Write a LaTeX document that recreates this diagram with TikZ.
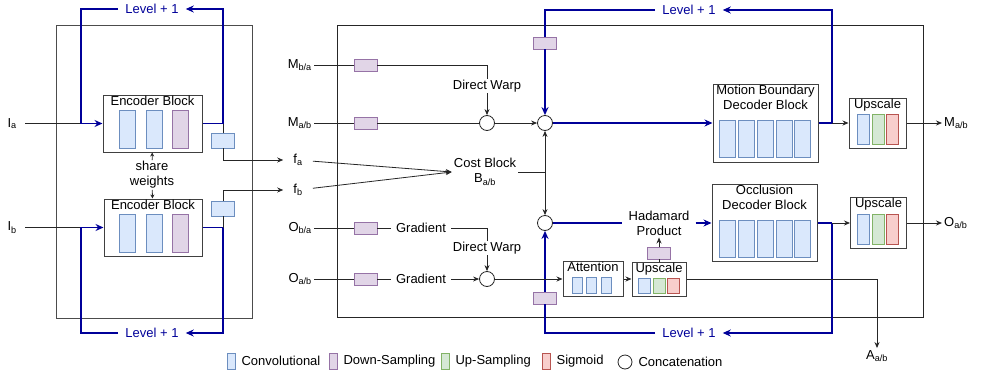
\documentclass[tikz,border=0pt]{standalone}
\usepackage{fontspec}
\setmainfont{Liberation Sans}
\usetikzlibrary{arrows.meta,positioning}
\definecolor{lvlblue}{HTML}{000099}
\definecolor{convfill}{HTML}{DAE8FC}
\definecolor{convline}{HTML}{6C8EBF}
\definecolor{downfill}{HTML}{E1D5E7}
\definecolor{downline}{HTML}{9673A6}
\definecolor{upfill}{HTML}{D5E8D4}
\definecolor{upline}{HTML}{82B366}
\definecolor{sigfill}{HTML}{F8CECC}
\definecolor{sigline}{HTML}{B85450}

\tikzset{
  ln/.style={draw=black!85, line width=0.8pt},
  arr/.style={ln, -{Stealth[length=6pt,width=5pt]}},
  sarr/.style={ln, -{Stealth[length=4pt,width=4pt]}},
  lvl/.style={draw=lvlblue, line width=1.4pt},
  larr/.style={lvl, -{Stealth[length=8pt,width=7pt]}},
  block/.style={rectangle, draw=black!75, fill=white, line width=1pt, inner sep=0pt},
  title/.style={anchor=north, inner sep=1pt, align=center},
  convbar/.style={draw=convline, fill=convfill, line width=0.8pt},
  downbar/.style={draw=downline, fill=downfill, line width=0.8pt},
  upbar/.style={draw=upline, fill=upfill, line width=0.8pt},
  sigbar/.style={draw=sigline, fill=sigfill, line width=0.8pt},
  dsbox/.style={downbar, minimum width=23pt, minimum height=12pt, inner sep=0pt},
  cbox/.style={convbar, minimum width=23pt, minimum height=15pt, inner sep=0pt},
  cat/.style={circle, draw=black!85, fill=white, line width=0.8pt, minimum size=15pt, inner sep=0pt},
  lvltxt/.style={text=lvlblue, inner xsep=7pt},
  inlbl/.style={anchor=east, inner xsep=8pt},
  mlbl/.style={anchor=east, inner xsep=2pt},
  flbl/.style={inner xsep=10pt},
}

\begin{document}
\begin{tikzpicture}[x=1pt, y=-1pt, every node/.append style={font=\fontsize{13}{15}\selectfont}]
\useasboundingbox (0,0) rectangle (983,370);

% encoder side
\draw[draw=black!70, line width=1pt] (56,25) rectangle (252,318);
\node[block, minimum width=99pt, minimum height=57pt, label={[title]north:Encoder Block}] (encA) at (152.5,123.5) {};
\node[block, minimum width=98pt, minimum height=57pt, label={[title]north:Encoder Block}] (encB) at (153,227.5) {};
\foreach \x/\s in {119/convbar, 146/convbar, 172/downbar} {
    \draw[\s] (\x,110) rectangle ++(16,38);
    \draw[\s] (\x,214) rectangle ++(16,38);
}
\node[cbox] (convA) at (223,140.5) {};
\node[cbox] (convB) at (223,208.5) {};
\node[inlbl] (ia) at (25,123.5) {I\textsubscript{a}};
\node[inlbl] (ib) at (25,227.5) {I\textsubscript{b}};
\coordinate (jA) at (81,123.5);
\coordinate (kA) at (223,123.5);
\coordinate (jB) at (81,227.5);
\coordinate (kB) at (223,227.5);
\node[lvltxt] (lvlA) at (152,9) {Level + 1};
\node[lvltxt] (lvlB) at (152,333) {Level + 1};
\node[align=center, inner sep=1pt] (sw) at (152,175) {share\\weights};
\node[flbl] (fa) at (298,160) {f\textsubscript{a}};
\node[flbl] (fb) at (298,190) {f\textsubscript{b}};

\draw[ln] (ia) -- (jA);
\draw[larr] (lvlA) -| (jA) -- (encA);
\draw[lvl] (encA) -- (kA);
\draw[larr] (kA) |- (lvlA);
\draw[ln] (kA) -- (convA);
\draw[arr] (convA) |- (fa);
\draw[ln] (ib) -- (jB);
\draw[larr] (lvlB) -| (jB) -- (encB);
\draw[lvl] (encB) -- (kB);
\draw[larr] (kB) |- (lvlB);
\draw[ln] (kB) -- (convB);
\draw[arr] (convB) |- (fb);
\draw[sarr] (sw) -- (encA);
\draw[sarr] (sw) -- (encB);

% decoder side
\draw[ln] (337,25) rectangle (923,317);
\node[mlbl] (mba) at (314,65) {M\textsubscript{b/a}};
\node[mlbl] (mab) at (314,123) {M\textsubscript{a/b}};
\node[mlbl] (oba) at (314,228) {O\textsubscript{b/a}};
\node[mlbl] (oab) at (314,279) {O\textsubscript{a/b}};
\node[dsbox] (dsM1) at (365.5,65) {};
\node[dsbox] (dsM2) at (365.5,123) {};
\node[dsbox] (dsO1) at (365.5,228) {};
\node[dsbox] (dsO2) at (365.5,279) {};
\node[inner xsep=5pt] (grad1) at (421,228) {Gradient};
\node[inner xsep=5pt] (grad2) at (421,279) {Gradient};
\node[inner sep=1pt] (dw1) at (487,86) {Direct Warp};
\node[inner sep=1pt] (dw2) at (487,248) {Direct Warp};
\coordinate (wM) at (487,65);
\coordinate (wO) at (487,228);
\node[cat] (c1) at (487,123) {};
\node[cat] (c2) at (545,123) {};
\node[cat] (c3) at (545,223) {};
\node[cat] (c4) at (487,279) {};
\node[align=center, inner sep=2pt] (cost) at (485,172) {Cost Block\\B\textsubscript{a/b}};
\coordinate (jC) at (545,172);
\node[dsbox] (dsT) at (545,43) {};
\node[dsbox] (dsB) at (545,298) {};
\node[lvltxt] (lvlM) at (689,10) {Level + 1};
\node[lvltxt] (lvlO) at (689,333) {Level + 1};
\node[block, minimum width=105pt, minimum height=78pt, label={[title]north:Motion Boundary\\Decoder Block}] (mbd) at (765.5,123) {};
\node[block, minimum width=105pt, minimum height=77pt, label={[title]north:Occlusion\\Decoder Block}] (ocd) at (764.5,223) {};
\foreach \x in {719,738,757,776,794} {
    \draw[convbar] (\x,120) rectangle ++(16,37);
    \draw[convbar] (\x,220) rectangle ++(16,37);
}
\coordinate (kM) at (832,123);
\coordinate (kO) at (832,223);
\node[block, minimum width=57pt, minimum height=50pt, label={[title]north:Upscale}] (upM) at (877.5,123) {};
\node[block, minimum width=56pt, minimum height=51pt, label={[title]north:Upscale}] (upO) at (878.5,223) {};
\foreach \x/\s in {857/convbar, 872/upbar, 886/sigbar} {
    \draw[\s] (\x,114) rectangle ++(12,30);
    \draw[\s] (\x,214) rectangle ++(12,30);
}
\node[anchor=west, inner sep=2pt] (outM) at (942,123) {M\textsubscript{a/b}};
\node[anchor=west, inner sep=2pt] (outO) at (942,223) {O\textsubscript{a/b}};
\node[align=center, inner xsep=6pt, inner ysep=2pt] (had) at (659,223) {Hadamard\\Product};
\node[block, minimum width=60pt, minimum height=35pt, label={[title]north:Attention}] (att) at (593,279) {};
\foreach \x in {572,586,601} {
    \draw[convbar] (\x,277) rectangle ++(10,16);
}
\node[block, minimum width=54pt, minimum height=34pt, label={[title]north:Upscale}] (up3) at (659,279) {};
\foreach \x/\s in {638/convbar, 653/upbar, 667/sigbar} {
    \draw[\s] (\x,278) rectangle ++(12,15);
}
\node[dsbox] (dsH) at (659,253) {};
\node[inner sep=2pt] (aab) at (877,356) {A\textsubscript{a/b}};

\draw[ln] (mba) -- (dsM1) -- (wM) -- (dw1);
\draw[arr] (dw1) -- (c1);
\draw[ln] (mab) -- (dsM2) -- (c1);
\draw[arr] (c1) -- (c2);
\draw[ln] (oba) -- (dsO1) -- (grad1);
\draw[ln] (grad1) -- (wO) -- (dw2);
\draw[arr] (dw2) -- (c4);
\draw[ln] (oab) -- (dsO2) -- (grad2);
\draw[arr] (grad2) -- (c4);
\draw[arr] (fa) -- (cost.west);
\draw[arr] (fb) -- (cost.west);
\draw[ln] (cost) -- (jC);
\draw[arr] (jC) -- (c2);
\draw[arr] (jC) -- (c3);
\draw[lvl] (mbd) -- (kM);
\draw[larr] (kM) |- (lvlM);
\draw[lvl] (lvlM) -| (dsT);
\draw[larr] (dsT) -- (c2);
\draw[larr] (c2) -- (mbd);
\draw[arr] (kM) -- (upM);
\draw[arr] (upM) -- (outM);
\draw[lvl] (c3) -- (had);
\draw[larr] (had) -- (ocd);
\draw[lvl] (ocd) -- (kO);
\draw[larr] (kO) |- (lvlO);
\draw[lvl] (lvlO) -| (dsB);
\draw[larr] (dsB) -- (c3);
\draw[arr] (kO) -- (upO);
\draw[arr] (upO) -- (outO);
\draw[arr] (c4) -- (att);
\draw[arr] (att) -- (up3);
\draw[ln] (up3) -- (dsH);
\draw[arr] (dsH) -- (had);
\draw[arr] (up3) -| (aab);

% legend
\foreach \x/\s/\t [count=\i] in {231/convbar/Convolutional, 333/downbar/Down-Sampling, 445/upbar/Up-Sampling, 546/sigbar/Sigmoid} {
    \node[\s, minimum width=8pt, minimum height=16pt, inner sep=0pt] (lgbox\i) at (\x,361) {};
    \node[right=6pt of lgbox\i, inner sep=0pt] (lgtxt\i) {\t};
}
\node[cat, minimum size=14pt] (lgcat) at (625,362) {};
\node[right=6pt of lgcat, inner sep=0pt] (lgcattxt) {Concatenation};
\end{tikzpicture}
\end{document}
